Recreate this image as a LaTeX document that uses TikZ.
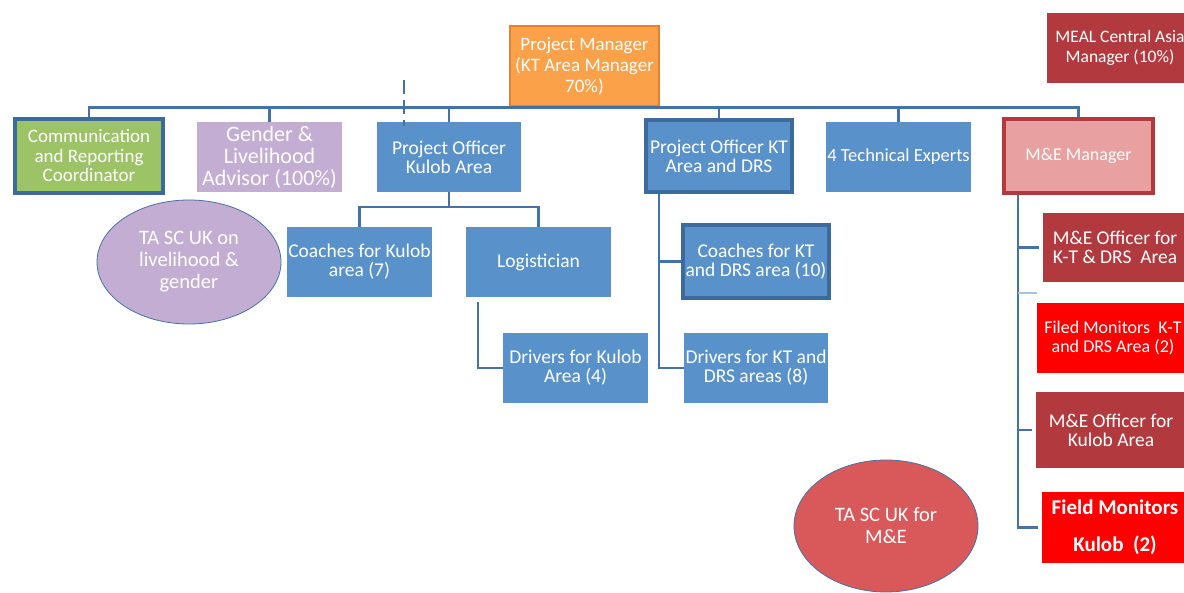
\documentclass[tikz,border=0pt]{standalone}
\usepackage{fontspec}
\setmainfont{Carlito}
\usepackage{tikz}
\usetikzlibrary{positioning,calc,shapes.geometric}

\definecolor{boxblue}{RGB}{89,146,202}
\definecolor{lineblue}{RGB}{68,114,168}
\definecolor{edgeblue}{RGB}{60,106,156}
\definecolor{pmorange}{RGB}{250,161,74}
\definecolor{pmedge}{RGB}{226,128,52}
\definecolor{mgreen}{RGB}{156,195,101}
\definecolor{lilac}{RGB}{196,173,210}
\definecolor{mealred}{RGB}{178,58,62}
\definecolor{pinkred}{RGB}{232,160,160}
\definecolor{firered}{RGB}{255,0,0}
\definecolor{ovalred}{RGB}{217,89,90}
\definecolor{ghostblue}{RGB}{165,195,225}

\begin{document}
\begin{tikzpicture}[
  x=1pt, y=1pt,
  box/.style={rectangle, fill=boxblue, text=white, align=center, inner sep=1pt,
              minimum width=145pt, minimum height=70pt, font=\fontsize{19.5}{19}\selectfont},
  heavy/.style={draw=edgeblue, line width=3.5pt},
  oval/.style={ellipse, draw=lineblue, line width=0.8pt, text=white, align=center,
               inner sep=0pt, font=\fontsize{20.5}{22}\selectfont},
  conn/.style={draw=lineblue, line width=2.6pt},
  ghost/.style={draw=ghostblue, line width=2pt}
]
\useasboundingbox (0,0) rectangle (1184,-593);

% ---------- nodes ----------
\node[box, fill=pmorange, draw=pmedge, line width=2.5pt, minimum width=149pt, minimum height=80pt,
      font=\fontsize{19}{21}\selectfont] (PM) at (584.5,-66) {Project Manager\\(KT Area Manager\\70\%)};
\node[box, fill=mealred, minimum width=146pt, font=\fontsize{17.5}{20}\selectfont] (MEAL) at (1120,-48)
      {MEAL Central Asia\\Manager (10\%)};

\node[box, heavy, fill=mgreen, minimum width=148pt, minimum height=74pt,
      font=\fontsize{19}{19.5}\selectfont] (Comm) at (89,-156)
      {Communication\\and Reporting\\Coordinator};
\node[box, fill=lilac, font=\fontsize{22}{22}\selectfont] (Gender) at (269.5,-157)
      {Gender \&\\Livelihood\\Advisor (100\%)};
\node[box, minimum width=144pt] (POKulob) at (449,-157) {Project Officer\\Kulob Area};
\node[box, heavy, minimum width=146pt, minimum height=72pt] (POKT) at (719,-156)
      {Project Officer KT\\Area and DRS};
\node[box, font=\fontsize{18.5}{19}\selectfont] (Experts) at (898.5,-157) {4 Technical Experts};
\node[box, fill=pinkred, draw=mealred, line width=3.5pt, minimum width=149pt, minimum height=74pt,
      font=\fontsize{18}{20}\selectfont] (MEMgr) at (1078.5,-156) {M\&E Manager};

\node[oval, fill=lilac, minimum width=184pt, minimum height=124pt] (TAlive) at (189,-262)
      {TA SC UK on\\livelihood \&\\gender};
\node[box] (CoachKulob) at (359.5,-262) {Coaches for Kulob\\area (7)};
\node[box] (Logist) at (538.5,-262) {Logistician};
\node[box] (DrivKulob) at (575.5,-368) {Drivers for Kulob\\Area (4)};

\node[box, heavy, minimum width=146pt, minimum height=73pt] (CoachKT) at (756,-261.5)
      {Coaches for KT\\and DRS area (10)};
\node[box, minimum width=144pt] (DrivKT) at (756,-368) {Drivers for KT and\\DRS areas (8)};

\node[box, fill=mealred, minimum width=144pt, minimum height=69pt] (MEOffKT) at (1115,-247.5)
      {M\&E Officer for\\K-T \& DRS\ \ Area};
\node[box, fill=firered, minimum width=152pt, font=\fontsize{18}{19}\selectfont] (FMKT) at (1113,-338)
      {Filed Monitors\ \ K-T\\and DRS Area (2)};
\node[box, fill=mealred, minimum width=150pt, minimum height=76pt] (MEOffKulob) at (1111,-430)
      {M\&E Officer for\\Kulob Area};
\node[box, fill=firered, minimum width=146pt, minimum height=71pt,
      font=\fontsize{21}{37}\selectfont\bfseries] (FMKulob) at (1115,-527.5)
      {Field Monitors\\Kulob\ \ (2)};
\node[oval, fill=ovalred, minimum width=184pt, minimum height=132pt] (TAme) at (886,-526)
      {TA SC UK for\\M\&E};

\coordinate (tickTop) at (404,-80);
\coordinate (tickEnd) at (404,-126);
\coordinate (kb) at (449,-207);

% ---------- connectors ----------
\draw[conn] (Comm.north) |- (PM.south) -| (MEMgr.north);
\foreach \n in {Gender, POKulob, POKT, Experts}
  \draw[conn] (\n.north) -- (\n.north |- PM.south);
\draw[conn, dashed, dash pattern=on 14pt off 6pt] (tickTop) -- (tickEnd);

\draw[conn] (POKulob.south) -- (kb);
\draw[conn] (CoachKulob.north) |- (kb) -| (Logist.north);
\draw[conn] ([xshift=-60.5pt, yshift=-5pt]Logist.south) |- (DrivKulob.west);

\draw[conn] ([xshift=-60pt]POKT.south) |- (CoachKT.west);
\draw[conn] ([xshift=-60pt]POKT.south) |- (DrivKT.west);

\draw[conn] ([xshift=-60.5pt]MEMgr.south) |- ([xshift=-4pt]FMKulob.west);
\draw[conn] ([xshift=-60.5pt]MEMgr.south) |- ([xshift=-4pt]MEOffKT.west);
\draw[conn] ([xshift=-60.5pt]MEMgr.south) |- ([xshift=-4pt]MEOffKulob.west);
\draw[ghost] ([yshift=10pt]FMKT.north west) -- ++(-19pt,0);
\end{tikzpicture}
\end{document}
